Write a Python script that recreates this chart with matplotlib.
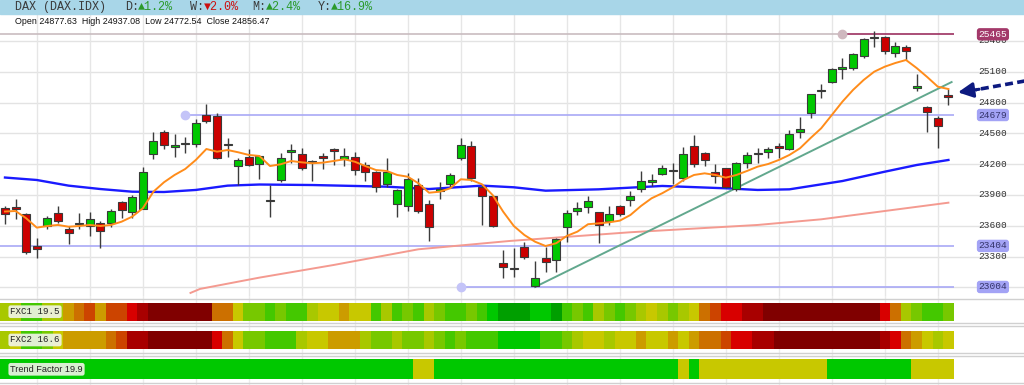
import matplotlib
matplotlib.use("Agg")
import matplotlib.pyplot as plt
from matplotlib.patches import Rectangle
import numpy as np

# ---------------- data ----------------
opens = [23770, 23786, 23718, 23406, 23598, 23722, 23569, 23618, 23601, 23630,
         23624, 23835, 23737, 23767, 24302, 24517, 24368, 24397, 24394, 24679,
         24672, 24391, 24182, 24267, 24199, 23839, 24043, 24319, 24302, 24226,
         24283, 24345, 24248, 24270, 24192, 24121, 24004, 23809, 23793, 23997,
         23809, 23939, 24004, 24263, 24377, 23981, 23890, 23241, 23192, 23391,
         23015, 23284, 23267, 23591, 23747, 23786, 23737, 23650, 23793, 23854,
         23958, 24030, 24105, 24139, 24061, 24377, 24306, 24127, 24160, 23955,
         24209, 24299, 24316, 24377, 24348, 24511, 24696, 24911, 25004, 25132,
         25140, 25254, 25430, 25436, 25286, 25344, 24945, 24754, 24647, 24877.63]
highs = [23793, 23858, 23725, 23484, 23698, 23793, 23598, 23728, 23737, 23647,
         23761, 23842, 23900, 24176, 24511, 24536, 24494, 24468, 24640, 24783,
         24696, 24458, 24257, 24348, 24290, 23997, 24306, 24394, 24355, 24236,
         24306, 24361, 24355, 24322, 24224, 24134, 24257, 23955, 24111, 24063,
         23851, 24030, 24117, 24452, 24429, 23997, 23900, 23364, 23387, 23445,
         23257, 23396, 23478, 23754, 23835, 23890, 23737, 23793, 23800, 23942,
         24134, 24105, 24192, 24212, 24370, 24484, 24322, 24202, 24160, 24224,
         24316, 24361, 24370, 24409, 24530, 24663, 24881, 24981, 25140, 25237,
         25280, 25426, 25500, 25449, 25393, 25361, 25076, 24767, 24672, 24937.08]
lows = [23615, 23666, 23322, 23284, 23569, 23624, 23423, 23569, 23504, 23387,
        23591, 23673, 23679, 23760, 24251, 24345, 24273, 24312, 24370, 24604,
        24251, 24273, 23997, 24185, 24056, 23689, 24024, 24209, 24144, 24039,
        24153, 24192, 24182, 24095, 24039, 23926, 23981, 23683, 23747, 23722,
        23455, 23858, 23981, 24241, 24036, 23608, 23591, 23089, 23104, 23274,
        23004, 23153, 23153, 23445, 23705, 23722, 23430, 23608, 23700, 23796,
        23932, 23988, 24095, 24007, 24036, 24176, 24182, 24014, 23965, 23942,
        24160, 24209, 24263, 24263, 24338, 24452, 24647, 24842, 24988, 25027,
        25118, 25237, 25344, 25270, 25241, 25215, 24916, 24511, 24355, 24772.54]
closes = [23712, 23761, 23342, 23371, 23679, 23647, 23533, 23627, 23666, 23549,
          23744, 23754, 23883, 24121, 24426, 24387, 24384, 24402, 24598, 24624,
          24257, 24397, 24238, 24192, 24277, 23845, 24263, 24338, 24166, 24223,
          24257, 24329, 24283, 24144, 24127, 23981, 24127, 23949, 24053, 23747,
          23585, 23958, 24095, 24387, 24063, 23890, 23601, 23196, 23176, 23293,
          23089, 23250, 23469, 23728, 23773, 23842, 23608, 23715, 23712, 23887,
          24036, 24049, 24166, 24135, 24296, 24202, 24241, 24085, 23973, 24209,
          24290, 24303, 24345, 24361, 24494, 24543, 24881, 24915, 25124, 25136,
          25270, 25417, 25434, 25305, 25354, 25305, 24962, 24711, 24575, 24856.47]

ema_fast = [23739, 23744, 23673, 23582, 23598, 23608, 23591, 23598, 23608, 23598,
            23608, 23640, 23689, 23770, 23932, 24024, 24095, 24153, 24241, 24348,
            24322, 24338, 24316, 24290, 24280, 24182, 24199, 24231, 24218, 24209,
            24215, 24231, 24248, 24224, 24182, 24143, 24134, 24095, 24078, 24014,
            23922, 23932, 23965, 24053, 24046, 24004, 23900, 23737, 23598, 23510,
            23445, 23403, 23430, 23501, 23543, 23615, 23624, 23634, 23650, 23705,
            23793, 23868, 23917, 23975, 24046, 24095, 24111, 24095, 24069, 24095,
            24134, 24176, 24202, 24241, 24290, 24355, 24455, 24550, 24679, 24809,
            24923, 25020, 25101, 25150, 25186, 25215, 25137, 25049, 24955, 24932]

ma_mid_idx = [0, 3, 6, 9, 12, 15, 18, 21, 24, 29, 36, 40, 45, 48, 51, 56, 62, 68, 71, 74, 79, 83, 86, 89]
ma_mid_val = [24070, 24046, 23991, 23958, 23932, 23929, 23949, 23991, 24002, 23997, 23981, 23958,
              23991, 23975, 23942, 23955, 23988, 23965, 23949, 23955, 24036, 24127, 24192, 24241]

ma_slow_idx = [17.5, 18.4, 24, 31, 39, 47.6, 59, 71, 77, 89]
ma_slow_val = [22946, 22985, 23095, 23218, 23371, 23452, 23537, 23608, 23663, 23825]

trend_idx = [50, 89.3]
trend_val = [23004, 25000]

level_resist = 25465
level_upper = 24679
level_mid = 23404
level_low = 23004
axis_ticks = [23300, 23600, 23900, 24200, 24500, 24800, 25100, 25400]

fxc1_levels = [4, 4, 2, 2, 4, 4, 6, 7, 8, 6, 8, 8, 9, 10, 11, 11, 11, 11, 11, 11,
               7, 7, 5, 3, 3, 2, 3, 2, 2, 4, 5, 5, 6, 5, 5, 2, 4, 2,
               3, 2, 4, 3, 2, 2, 3, 2, 1, 0, 0, 0, 1, 1, 0, 2, 3, 2, 4, 3, 2,
               3, 4, 5, 4, 3, 4, 5, 7, 8, 9, 9, 10, 10,
               11, 11, 11, 11, 11, 11, 11, 11, 11, 11, 11, 9, 7, 4, 3, 2, 2, 3]
fxc2_levels = [4, 5, 2, 2, 3, 5, 6, 6, 6, 6, 7, 8, 10, 10, 11, 11, 11, 11, 11, 11,
               9, 7, 5, 3, 3, 2, 2, 2, 4, 5, 5, 6, 6, 6, 4, 3, 3, 4,
               3, 3, 4, 3, 2, 3, 2, 2, 2, 1, 1, 1, 1, 2, 2, 3, 4, 5, 5, 4, 5,
               5, 6, 5, 5, 6, 5, 6, 7, 7, 8, 9, 9, 10,
               10, 11, 11, 11, 11, 11, 11, 11, 11, 11, 11, 10, 9, 7, 6, 5, 4, 5]
trend_levels = [1] * 39 + [5] * 2 + [1] * 23 + [5, 1] + [5] * 12 + [1] * 8 + [5] * 4

fxc1_label = "FXC1 19.5"
fxc2_label = "FXC2 16.6"
trend_label = "Trend Factor 19.9"
info_text = "Open 24877.63  High 24937.08  Low 24772.54  Close 24856.47"

palette = ['#009f00', '#00c800', '#44c800', '#77c800', '#a8c800', '#c8c800',
           '#cc9c00', '#cc7000', '#cc4400', '#d80000', '#a80000', '#800000']

# ---------------- figure ----------------
W, H = 1024, 385
fig = plt.figure(figsize=(W / 100, H / 100), dpi=100)
fig.patch.set_facecolor('white')

def fy(py):
    return 1 - py / H

XMIN, XMAX = -0.47, 96.13
n = len(opens)
x = np.arange(n)

ax = fig.add_axes([0, fy(296), 1, (296 - 14) / H])
ax.set_xlim(XMIN, XMAX)
ax.set_ylim(22916, 25663)
ax.axis('off')

# grid
for p in range(23000, 25500, 300):
    ax.axhline(p, color='#e3e3e3', lw=1, zorder=0)
for i in range(3, n, 5):
    ax.axvline(i, color='#e6e6e6', lw=1, zorder=0)

# horizontal levels
lvl_col = '#a9a9f6'
ax.hlines(level_mid, XMIN, 89.5, color=lvl_col, lw=1.2, zorder=1)
ax.hlines(level_upper, 17, 89.5, color=lvl_col, lw=1.2, zorder=1)
ax.plot([17], [level_upper], 'o', ms=6, color='#c4c4f8', zorder=2)
ax.hlines(level_low, 43, 89.5, color=lvl_col, lw=1.2, zorder=1)
ax.plot([43], [level_low], 'o', ms=6, color='#c4c4f8', zorder=2)
ax.hlines(level_resist, XMIN, 79, color='#c9bcc0', lw=1.2, zorder=1)
ax.hlines(level_resist, 79, 89.5, color='#9c3060', lw=1.2, zorder=1)
ax.plot([79], [level_resist], 'o', ms=6, color='#cfb8bf', zorder=2)

# moving averages
ax.plot(ma_slow_idx, ma_slow_val, color='#f49a90', lw=1.4, zorder=2)
ax.plot(ma_mid_idx, ma_mid_val, color='#1a1aff', lw=1.7, zorder=2)
ax.plot(trend_idx, trend_val, color='#62a88e', lw=1.4, zorder=2)

# candles
o = np.array(opens); c = np.array(closes)
ax.vlines(x, lows, highs, color='#3c3c3c', lw=1, zorder=3)
up = c >= o
cols = np.where(up, '#00c800', '#cc0000')
ax.bar(x, np.maximum(np.abs(c - o), 10), bottom=np.minimum(o, c), width=0.75,
       color=cols, edgecolor='#3a3a3a', linewidth=0.8, zorder=4)

ax.plot(x, ema_fast, color='#ff8c1a', lw=1.4, zorder=5)

# right axis labels
mono = ['Liberation Mono', 'DejaVu Sans Mono']
for p in axis_ticks:
    ax.text(93.2, p, str(p), ha='center', va='center', fontsize=6.8,
            family=mono, color='#333333', zorder=6)
for val, fc, tc in [(level_resist, '#a3396a', 'white'), (level_upper, '#a3a3f5', '#33336a'),
                    (level_mid, '#a3a3f5', '#33336a'), (level_low, '#a3a3f5', '#33336a')]:
    ax.text(93.2, val, str(val), ha='center', va='center', fontsize=6.8, family=mono,
            color=tc, zorder=7,
            bbox=dict(boxstyle='round,pad=0.18,rounding_size=0.3', fc=fc, ec='none'))

# arrow
ax.plot([96.3, 91.6], [25012, 24925], color='#0d1a80', lw=2.6, ls=(0, (2.2, 1.2)), zorder=6,
        solid_capstyle='butt')
ax.annotate('', xy=(89.9, 24900), xytext=(91.9, 24930),
            arrowprops=dict(arrowstyle='-|>,head_length=0.9,head_width=0.45', color='#0d1a80',
                            lw=2.2, shrinkA=0, shrinkB=0), zorder=7)

# info text
ax.text(0.9, 25587, info_text, fontsize=6.4, family='Liberation Sans', color='#111111',
        va='center', ha='left', zorder=6)

# ---------------- strips ----------------
ax2 = fig.add_axes([0, 0, 1, fy(296)])
ax2.set_xlim(XMIN, XMAX)
ax2.set_ylim(385, 296)
ax2.axis('off')
for i in range(3, n, 5):
    ax2.axvline(i, color='#ececec', lw=1, zorder=0)
for yy in [298.5, 323, 325.5, 352.5, 355.5, 383]:
    ax2.axhline(yy, color='#d0d0d0', lw=1, zorder=1)
rows = [(fxc1_levels, 302.7, 18.0, fxc1_label, mono),
        (fxc2_levels, 330.7, 18.6, fxc2_label, mono),
        (trend_levels, 359.3, 20.0, trend_label, ['Liberation Sans'])]
for levels, top, hgt, lab, fam in rows:
    for i, lv in enumerate(levels):
        ax2.add_patch(Rectangle((i - 0.5, top), 1.0, hgt, color=palette[lv], lw=0, zorder=2))
    ax2.text(0.5, top + hgt / 2, lab, ha='left', va='center', fontsize=6.6, family=fam,
             color='#222222', zorder=4,
             bbox=dict(boxstyle='round,pad=0.2,rounding_size=0.25', fc='#f2f4ea', ec='none', alpha=0.9))

# ---------------- header ----------------
fig.patches.append(Rectangle((0, fy(14)), 1, 14 / H, transform=fig.transFigure,
                             color='#a8d6e8', zorder=0))
hdr = [(15, 'DAX (DAX.IDX)', '#3a3a3a'), (125, 'D:', '#3a3a3a'), (138, '\u25b21.2%', '#2b9a2b'),
       (190, 'W:', '#3a3a3a'), (204, '\u25bc2.0%', '#cc1010'), (252, 'M:', '#3a3a3a'),
       (266, '\u25b22.4%', '#2b9a2b'), (318, 'Y:', '#3a3a3a'), (331, '\u25b216.9%', '#2b9a2b')]
for px, t, col in hdr:
    fig.text(px / W, fy(7), t, fontsize=8.5, family=['Liberation Mono', 'DejaVu Sans Mono', 'DejaVu Sans'],
             color=col, va='center', ha='left')

fig.savefig('out.png', dpi=100)
